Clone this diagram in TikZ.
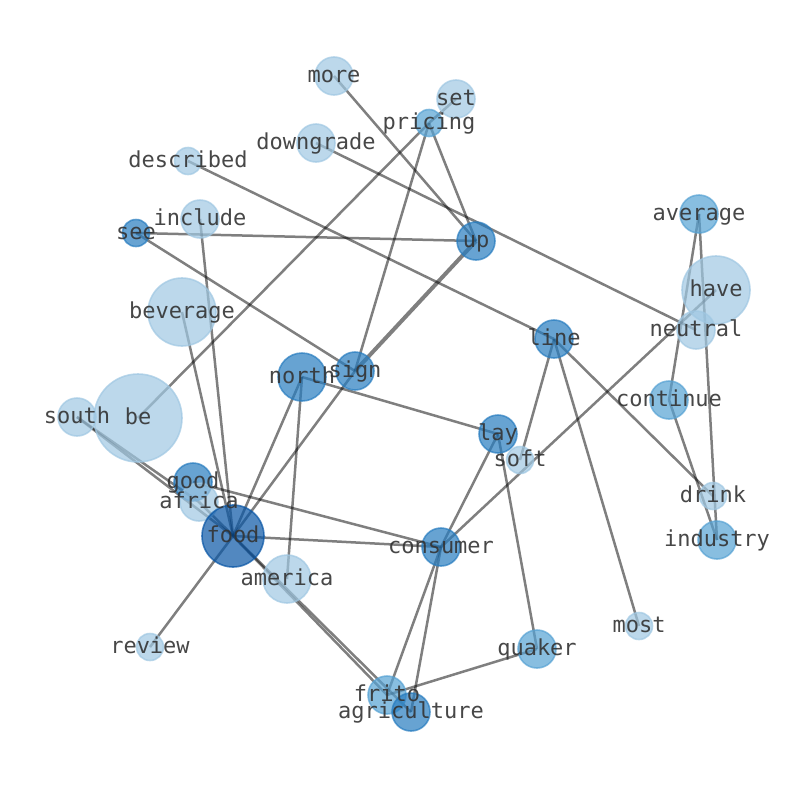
\documentclass[tikz,border=0pt]{standalone}
\usepackage{fontspec}
\newfontfamily\lblfont{DejaVu Sans Mono}
\definecolor{cL}{RGB}{159,199,226}
\definecolor{cM}{RGB}{86,162,211}
\definecolor{cD}{RGB}{39,124,191}
\definecolor{cF}{RGB}{8,85,165}
\definecolor{txt}{RGB}{51,51,51}
\tikzset{
  nd/.style={circle, inner sep=0pt, outer sep=0pt, line width=1.6pt, fill opacity=0.7, draw opacity=0.7},
  lt/.style={nd, fill=cL, draw=cL},
  md/.style={nd, fill=cM, draw=cM},
  dk/.style={nd, fill=cD, draw=cD},
  fd/.style={nd, fill=cF, draw=cF},
  edge/.style={draw=black, draw opacity=0.5, line width=2.5pt},
  lbl/.style={text=txt, inner sep=0pt, font=\lblfont\fontsize{22}{25}\selectfont, text height=12pt, text depth=0pt, opacity=0.9}
}
\begin{document}
\begin{tikzpicture}[x=1pt,y=-1pt]
\useasboundingbox (0,0) rectangle (794,790);
% centres
\coordinate (more) at (334,76);
\coordinate (set) at (456,99);
\coordinate (pricing) at (429,123);
\coordinate (downgrade) at (316,143);
\coordinate (described) at (188,161);
\coordinate (average) at (699,214);
\coordinate (include) at (200,219);
\coordinate (see) at (136,233);
\coordinate (up) at (476,241);
\coordinate (have) at (716,290);
\coordinate (beverage) at (182,312);
\coordinate (neutral) at (696,330);
\coordinate (line) at (554,339);
\coordinate (north) at (302,377);
\coordinate (sign) at (355,371);
\coordinate (continue) at (669,400);
\coordinate (south) at (77,417);
\coordinate (be) at (138,418);
\coordinate (lay) at (498,434);
\coordinate (soft) at (520,460);
\coordinate (good) at (193,482);
\coordinate (africa) at (199,502);
\coordinate (drink) at (713,496);
\coordinate (food) at (233,536);
\coordinate (industry) at (717,540);
\coordinate (consumer) at (441,547);
\coordinate (america) at (287,579);
\coordinate (most) at (639,626);
\coordinate (review) at (150,647);
\coordinate (quaker) at (537,649);
\coordinate (frito) at (387,695);
\coordinate (agriculture) at (411,712);
% edges
\draw[edge] (more) -- (up);
\draw[edge] (set) -- (pricing);
\draw[edge] (pricing) -- (up);
\draw[edge] (pricing) -- (sign);
\draw[edge] (pricing) -- (be);
\draw[edge] (downgrade) -- (neutral);
\draw[edge] (described) -- (line);
\draw[edge] (see) -- (up);
\draw[edge] (see) -- (sign);
\draw[edge] (include) -- (food);
\draw[edge] (beverage) -- (food);
\draw[edge, line width=4pt] (up) -- (sign);
\draw[edge] (sign) -- (food);
\draw[edge] (north) -- (lay);
\draw[edge] (north) -- (food);
\draw[edge] (north) -- (america);
\draw[edge] (line) -- (soft);
\draw[edge] (line) -- (most);
\draw[edge] (line) -- (drink);
\draw[edge] (lay) -- (consumer);
\draw[edge] (lay) -- (quaker);
\draw[edge] (have) -- (consumer);
\draw[edge] (consumer) -- (food);
\draw[edge] (good) -- (consumer);
\draw[edge] (south) -- (food);
\draw[edge] (south) -- (africa);
\draw[edge] (food) -- (frito);
\draw[edge] (africa) -- (agriculture);
\draw[edge] (consumer) -- (frito);
\draw[edge] (consumer) -- (agriculture);
\draw[edge] (quaker) -- (frito);
\draw[edge] (average) -- (continue);
\draw[edge] (average) -- (industry);
\draw[edge] (continue) -- (industry);
\draw[edge] (food) -- (review);
% circles
\node[lt, minimum size=88pt] (c-be) at (be) {};
\node[lt, minimum size=38pt] (c-south) at (south) {};
\node[lt, minimum size=68pt] (c-have) at (have) {};
\node[lt, minimum size=68pt] (c-beverage) at (beverage) {};
\node[lt, minimum size=38pt] (c-more) at (more) {};
\node[lt, minimum size=38pt] (c-set) at (set) {};
\node[md, minimum size=27pt] (c-pricing) at (pricing) {};
\node[lt, minimum size=38pt] (c-downgrade) at (downgrade) {};
\node[lt, minimum size=27pt] (c-described) at (described) {};
\node[md, minimum size=38pt] (c-average) at (average) {};
\node[lt, minimum size=38pt] (c-include) at (include) {};
\node[dk, minimum size=27pt] (c-see) at (see) {};
\node[dk, minimum size=38pt] (c-up) at (up) {};
\node[lt, minimum size=38pt] (c-neutral) at (neutral) {};
\node[dk, minimum size=38pt] (c-line) at (line) {};
\node[dk, minimum size=48pt] (c-north) at (north) {};
\node[dk, minimum size=38pt] (c-sign) at (sign) {};
\node[md, minimum size=38pt] (c-continue) at (continue) {};
\node[dk, minimum size=38pt] (c-lay) at (lay) {};
\node[lt, minimum size=27pt] (c-soft) at (soft) {};
\node[dk, minimum size=38pt] (c-good) at (good) {};
\node[lt, minimum size=38pt] (c-africa) at (africa) {};
\node[fd, minimum size=62pt] (c-food) at (food) {};
\node[lt, minimum size=27pt] (c-drink) at (drink) {};
\node[md, minimum size=38pt] (c-industry) at (industry) {};
\node[dk, minimum size=38pt] (c-consumer) at (consumer) {};
\node[lt, minimum size=48pt] (c-america) at (america) {};
\node[lt, minimum size=27pt] (c-most) at (most) {};
\node[lt, minimum size=27pt] (c-review) at (review) {};
\node[md, minimum size=38pt] (c-quaker) at (quaker) {};
\node[md, minimum size=38pt] (c-frito) at (frito) {};
\node[dk, minimum size=38pt] (c-agriculture) at (agriculture) {};
% labels
\node[lbl] (l-more) at (more) {more};
\node[lbl] (l-set) at (set) {set};
\node[lbl] (l-pricing) at (pricing) {pricing};
\node[lbl] (l-downgrade) at (downgrade) {downgrade};
\node[lbl] (l-described) at (described) {described};
\node[lbl] (l-average) at (average) {average};
\node[lbl] (l-include) at (include) {include};
\node[lbl] (l-see) at (see) {see};
\node[lbl] (l-up) at (up) {up};
\node[lbl] (l-have) at (have) {have};
\node[lbl] (l-beverage) at (beverage) {beverage};
\node[lbl] (l-neutral) at (neutral) {neutral};
\node[lbl] (l-line) at (line) {line};
\node[lbl] (l-north) at (north) {north};
\node[lbl] (l-sign) at (sign) {sign};
\node[lbl] (l-continue) at (continue) {continue};
\node[lbl] (l-south) at (south) {south};
\node[lbl] (l-be) at (be) {be};
\node[lbl] (l-lay) at (lay) {lay};
\node[lbl] (l-soft) at (soft) {soft};
\node[lbl] (l-good) at (good) {good};
\node[lbl] (l-africa) at (africa) {africa};
\node[lbl] (l-drink) at (drink) {drink};
\node[lbl] (l-food) at (food) {food};
\node[lbl] (l-industry) at (industry) {industry};
\node[lbl] (l-consumer) at (consumer) {consumer};
\node[lbl] (l-america) at (america) {america};
\node[lbl] (l-most) at (most) {most};
\node[lbl] (l-review) at (review) {review};
\node[lbl] (l-quaker) at (quaker) {quaker};
\node[lbl] (l-frito) at (frito) {frito};
\node[lbl] (l-agriculture) at (agriculture) {agriculture};
\end{tikzpicture}
\end{document}
